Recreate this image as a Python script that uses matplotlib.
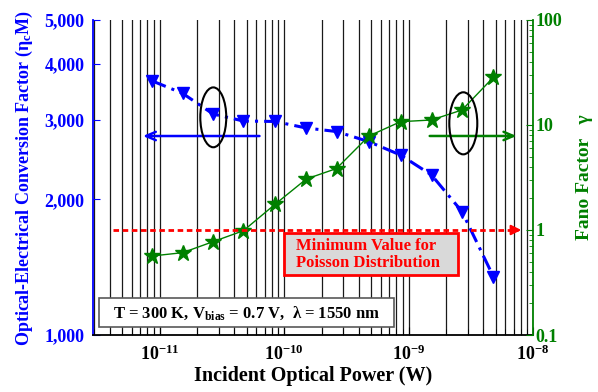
import matplotlib
matplotlib.use("Agg")
import matplotlib.pyplot as plt
from matplotlib.patches import Ellipse, Rectangle
from matplotlib.ticker import FixedLocator, FixedFormatter, LogLocator, NullFormatter

plt.rcParams["font.family"] = "Liberation Serif"
plt.rcParams["font.weight"] = "bold"
plt.rcParams["mathtext.fontset"] = "custom"
plt.rcParams["mathtext.rm"] = "Liberation Serif:bold"
plt.rcParams["mathtext.bf"] = "Liberation Serif:bold"
plt.rcParams["mathtext.it"] = "Liberation Serif:bold"

# incident optical power (W)
power = [8.63e-12, 1.53e-11, 2.69e-11, 4.72e-11, 8.47e-11, 1.51e-10,
         2.64e-10, 4.81e-10, 8.63e-10, 1.53e-9, 2.69e-9, 4.81e-9]
# optical-electrical conversion factor (eta_c M)
conv_factor = [3667, 3438, 3093, 2984, 2977, 2879,
               2828, 2685, 2508, 2265, 1878, 1347]
# Fano factor gamma
fano = [0.565, 0.608, 0.774, 0.985, 1.757, 3.06,
        3.85, 7.86, 10.75, 11.16, 13.9, 28.5]

left_ticks = [1000, 2000, 3000, 4000, 5000]
left_labels = ["1,000", "2,000", "3,000", "4,000", "5,000"]
right_ticks = [0.1, 1, 10, 100]
right_labels = ["0.1", "1", "10", "100"]
x_ticks = [1e-11, 1e-10, 1e-9, 1e-8]
x_labels = [r"$\mathbf{10^{-11}}$", r"$\mathbf{10^{-10}}$", r"$\mathbf{10^{-9}}$", r"$\mathbf{10^{-8}}$"]

blue = "#0000ff"
green = "#008000"

fig = plt.figure(figsize=(5.98, 3.92), dpi=100)
ax = fig.add_axes([0.1555, 0.1454, 0.7358, 0.8036])
ax2 = ax.twinx()

ax.set_xscale("log")
ax.set_yscale("log")
ax.set_xlim(2.92e-12, 1e-8)
ax.set_ylim(1000, 5000)

# vertical grid at every decade subdivision
ax.xaxis.set_major_locator(FixedLocator(x_ticks))
ax.xaxis.set_major_formatter(FixedFormatter(x_labels))
ax.xaxis.set_minor_locator(LogLocator(base=10, subs=range(2, 10)))
ax.xaxis.set_minor_formatter(NullFormatter())
ax.grid(which="both", axis="x", color="0.1", lw=0.9)
ax.set_axisbelow(True)

ax.yaxis.set_major_locator(FixedLocator(left_ticks))
ax.yaxis.set_major_formatter(FixedFormatter(left_labels))
ax.yaxis.set_minor_locator(FixedLocator([]))

ax.plot(power, conv_factor, color=blue, ls=(0, (5, 2, 1, 2)), lw=2.2,
        marker="v", markersize=9, zorder=3)

ax.tick_params(axis="x", which="both", direction="in", top=False,
               labelsize=13, pad=7, colors="black")
ax.tick_params(axis="x", which="major", length=6)
ax.tick_params(axis="x", which="minor", length=4)
ax.tick_params(axis="y", which="both", direction="in", length=5,
               colors=blue, labelsize=13, pad=6)
for t in ax.get_yticklabels():
    t.set_fontweight("bold")

ax.spines["top"].set_visible(False)
ax.spines["right"].set_visible(False)
ax.spines["left"].set_color(blue)
ax.spines["left"].set_linewidth(1.3)
ax.spines["bottom"].set_linewidth(1.3)

ax.set_xlabel("Incident Optical Power (W)", fontsize=14.5, fontweight="bold",
              labelpad=1)
ax.set_ylabel(r"Optical-Electrical Conversion Factor (η$_{\mathbf{c}}$M)",
              color=blue, fontsize=13, fontweight="bold", labelpad=7)

# right axis: Fano factor
ax2.set_yscale("log")
ax2.set_ylim(0.1, 100)
ax2.yaxis.set_major_locator(FixedLocator(right_ticks))
ax2.yaxis.set_major_formatter(FixedFormatter(right_labels))
ax2.yaxis.set_minor_locator(LogLocator(base=10, subs=range(2, 10)))
ax2.yaxis.set_minor_formatter(NullFormatter())
ax2.tick_params(axis="y", which="both", direction="in", colors=green,
                labelsize=13, pad=2)
ax2.tick_params(axis="y", which="major", length=5)
ax2.tick_params(axis="y", which="minor", length=3)
for t in ax2.get_yticklabels():
    t.set_fontweight("bold")
for s in ["top", "left", "bottom"]:
    ax2.spines[s].set_visible(False)
ax2.spines["right"].set_color(green)
ax2.spines["right"].set_linewidth(1.3)

ax2.plot(power, fano, color=green, lw=1, marker="*", markersize=12,
         zorder=4)

# Poisson limit
ax2.hlines(1, 4.23e-12, 7.6e-9, colors="red", lw=2, linestyles=(0, (2, 1.3)),
           zorder=4)
ax2.annotate("", xy=(8.05e-9, 1), xytext=(7.0e-9, 1),
             arrowprops=dict(arrowstyle="-|>", color="red", lw=1.5,
                             mutation_scale=15, shrinkA=0, shrinkB=0))
# axis indicator arrows
ax.annotate("", xy=(7.35e-12, 2764), xytext=(6.35e-11, 2764),
            arrowprops=dict(arrowstyle="->,head_length=0.7,head_width=0.3",
                            color=blue, lw=1.8, shrinkA=0, shrinkB=0),
            zorder=5)
ax2.annotate("", xy=(7.36e-9, 7.86), xytext=(1.48e-9, 7.86),
             arrowprops=dict(arrowstyle="->,head_length=0.7,head_width=0.3",
                             color=green, lw=1.8, shrinkA=0, shrinkB=0),
             zorder=5)

ax2.add_patch(Ellipse((0.2734, 0.691), 0.059, 0.19, transform=ax2.transAxes,
                      fill=False, ec="black", lw=1.5, zorder=5))
ax2.add_patch(Ellipse((0.8416, 0.672), 0.0636, 0.197, transform=ax2.transAxes,
                      fill=False, ec="black", lw=1.5, zorder=5))

ax2.add_patch(Rectangle((0.434, 0.1905), 0.3949, 0.1324, transform=ax2.transAxes,
                        fc="#d9d9d9", ec="red", lw=2, zorder=6))
ax2.text(0.4614, 0.2567, "Minimum Value for\nPoisson Distribution",
         transform=ax2.transAxes, ha="left", va="center", ma="left",
         color="red", fontsize=12, fontweight="bold", linespacing=1.1,
         zorder=7)
ax2.add_patch(Rectangle((0.0143, 0.0244), 0.6697, 0.0921, transform=ax2.transAxes,
                        fc="white", ec="0.35", lw=1.2, zorder=6))
ax2.text(0.349, 0.0705, r"T = 300 K, V$_{\mathbf{bias}}$ = 0.7 V,  λ = 1550 nm",
         transform=ax2.transAxes, ha="center", va="center",
         color="black", fontsize=12, fontweight="bold", zorder=7)

fig.text(0.978, 0.548, "Fano Factor   γ", rotation=90, ha="center",
         va="center", color=green, fontsize=14, fontweight="bold")

fig.savefig("out.png", dpi=100)
